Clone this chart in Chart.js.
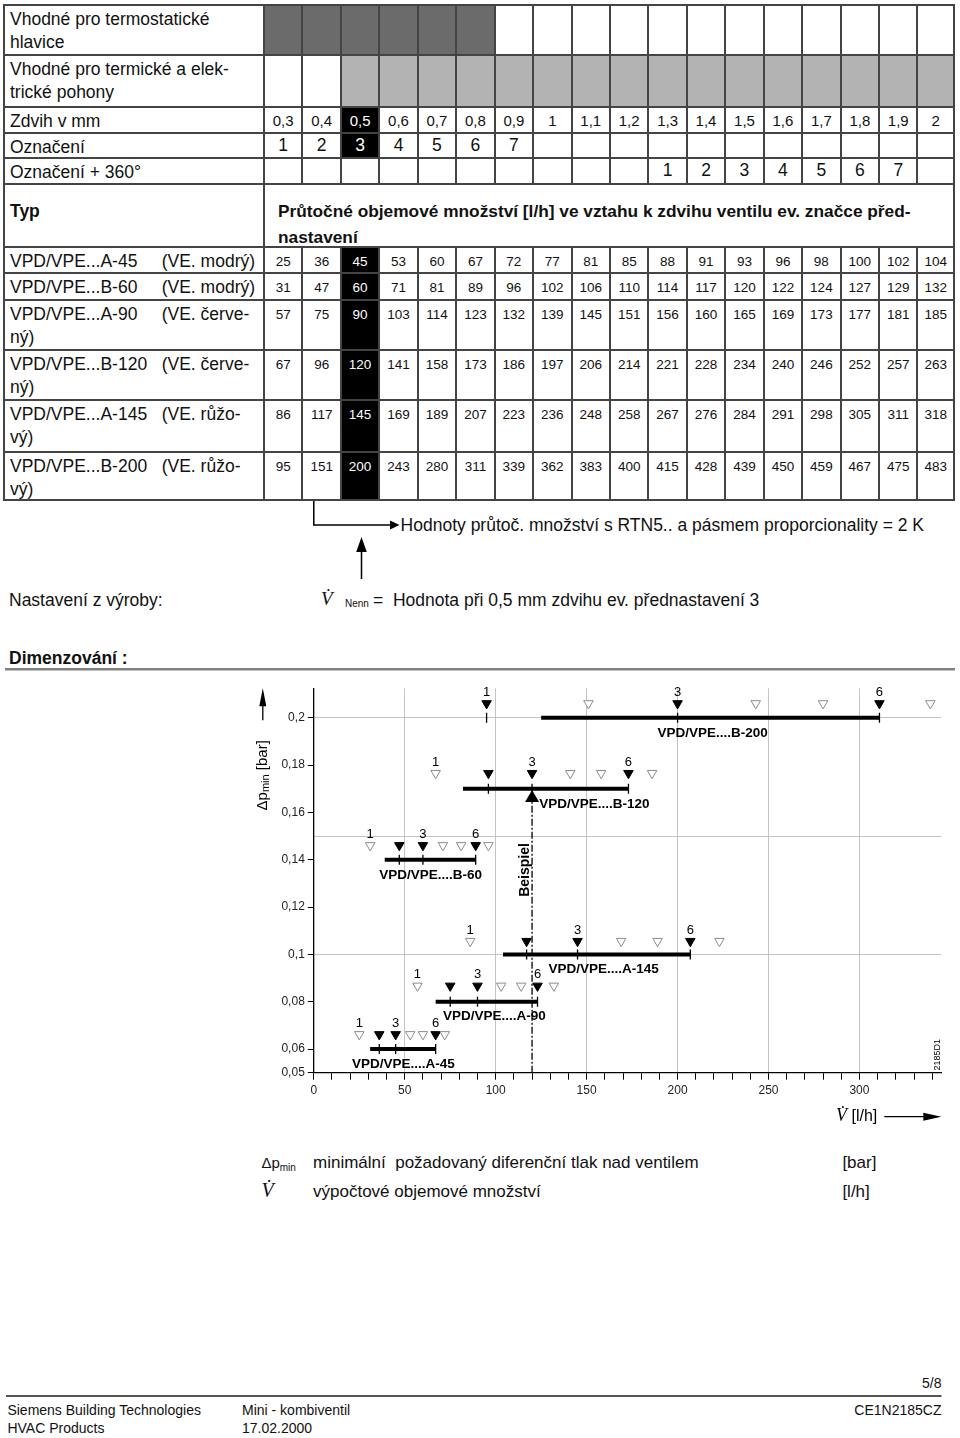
<!DOCTYPE html>
<html lang="cs">
<head>
<meta charset="utf-8">
<title>Mini - kombiventil</title>
<script src="https://cdn.jsdelivr.net/npm/chart.js@4.4.0/dist/chart.umd.min.js"></script>
<style>
  body { margin:0; background:#fff; }
  #page { position:relative; width:960px; height:1438px; overflow:hidden;
          font-family:"Liberation Sans", Arial, Helvetica, sans-serif; color:#111; }
  .c { position:absolute; box-sizing:border-box; border-left:2px solid #444; border-top:2px solid #444;
       white-space:nowrap; overflow:visible; }
  .lab { font-size:17.5px; line-height:23px; padding:2px 0 0 5px; }
  .typ { font-weight:bold; padding-top:13px; line-height:26px; }
  .flowhead { font-weight:bold; font-size:17.3px; line-height:26px; padding:13px 0 0 13px; }
  .num15 { font-size:15px; line-height:23px; padding-top:1px; text-align:center; }
  .num17 { font-size:17.5px; line-height:23px; text-align:center; }
  .val { font-size:13.5px; line-height:23px; padding-top:2px; text-align:center; }
  .dark { background:#6b6b6b; }
  .light { background:#b3b3b3; }
  .blk { background:#000; color:#fff; }
  .nm { display:inline-block; box-sizing:border-box; min-width:151.7px; padding-right:7px; }
  .t { position:absolute; white-space:nowrap; line-height:20px; }
  .vdot { font-family:"Liberation Serif", "Times New Roman", serif; font-style:italic; }
</style>
</head>
<body>
<div id="page">
  <div id="tbl"></div>

  <svg width="960" height="1438" style="position:absolute;left:0;top:0">
    <path d="M313.8 501 V525 H392" stroke="#000" stroke-width="1.5" fill="none"/>
    <path d="M390 520.5 L399.5 525 L390 529.5 Z" fill="#000"/>
    <line x1="361.5" y1="579" x2="361.5" y2="548" stroke="#000" stroke-width="1.5"/>
    <path d="M356.2 552 L361.5 537 L366.8 552 Z" fill="#000"/>
    <rect x="5" y="668" width="950" height="2.5" fill="#808080"/>
    <rect x="6" y="1395" width="935.5" height="2" fill="#555"/>
  </svg>

  <div class="t" style="left:400.6px;top:515px;font-size:17.5px">Hodnoty průtoč. množství s RTN5.. a pásmem proporcionality = 2 K</div>

  <div class="t" style="left:9px;top:590px;font-size:17.5px">Nastavení z výroby:</div>
  <div class="t vdot" style="left:321px;top:589px;font-size:19px">V&#775;</div>
  <div class="t" style="left:345px;top:594px;font-size:10px">Nenn</div>
  <div class="t" style="left:373px;top:590px;font-size:17.5px">= &nbsp;Hodnota při 0,5 mm zdvihu ev. přednastavení 3</div>

  <div class="t" style="left:9px;top:648px;font-size:17.5px;font-weight:bold">Dimenzování :</div>

  <canvas id="graf" width="720" height="460" style="position:absolute;left:240px;top:680px"></canvas>

  <div class="t" style="left:261.4px;top:1153px;font-size:15px">&Delta;p<span style="font-size:10px;position:relative;top:3px">min</span></div>
  <div class="t" style="left:313px;top:1153px;font-size:17px">minimální&nbsp; požadovaný diferenční tlak nad ventilem</div>
  <div class="t" style="left:842.4px;top:1153px;font-size:17px">[bar]</div>
  <div class="t vdot" style="left:261.4px;top:1180px;font-size:20px">V&#775;</div>
  <div class="t" style="left:313px;top:1182px;font-size:17px">výpočtové objemové množství</div>
  <div class="t" style="left:842.4px;top:1182px;font-size:17px">[l/h]</div>

  <div class="t" style="right:18.5px;top:1373px;font-size:14px">5/8</div>
  <div class="t" style="left:7.4px;top:1400px;font-size:14px">Siemens Building Technologies</div>
  <div class="t" style="left:7.4px;top:1418px;font-size:14px">HVAC Products</div>
  <div class="t" style="left:242px;top:1400px;font-size:14px">Mini - kombiventil</div>
  <div class="t" style="left:242px;top:1418px;font-size:14px">17.02.2000</div>
  <div class="t" style="right:18.5px;top:1400px;font-size:14px">CE1N2185CZ</div>
</div>

<script>
// --- data z tabulky ---
const strokeMm = ['0,3','0,4','0,5','0,6','0,7','0,8','0,9','1','1,1','1,2','1,3','1,4','1,5','1,6','1,7','1,8','1,9','2']
const marks    = ['1','2','3','4','5','6','7','','','','','','','','','','','']
const marks360 = ['','','','','','','','','','','1','2','3','4','5','6','7','']
const nominalColumn = 2   // 0,5 mm / prednastaveni 3

const typeNames = ['VPD/VPE...A-45','VPD/VPE...B-60','VPD/VPE...A-90','VPD/VPE...B-120','VPD/VPE...A-145','VPD/VPE...B-200']
const typeNotes = [['(VE. modrý)',''],['(VE. modrý)',''],['(VE. červe-','ný)'],['(VE. červe-','ný)'],['(VE. růžo-','vý)'],['(VE. růžo-','vý)']]
const chartNames = ['VPD/VPE....A-45','VPD/VPE....B-60','VPD/VPE....A-90','VPD/VPE....B-120','VPD/VPE....A-145','VPD/VPE....B-200']

const flowA45  = [25,36,45,53,60,67,72,77,81,85,88,91,93,96,98,100,102,104]
const flowB60  = [31,47,60,71,81,89,96,102,106,110,114,117,120,122,124,127,129,132]
const flowA90  = [57,75,90,103,114,123,132,139,145,151,156,160,165,169,173,177,181,185]
const flowB120 = [67,96,120,141,158,173,186,197,206,214,221,228,234,240,246,252,257,263]
const flowA145 = [86,117,145,169,189,207,223,236,248,258,267,276,284,291,298,305,311,318]
const flowB200 = [95,151,200,243,280,311,339,362,383,400,415,428,439,450,459,467,475,483]
const flows = [flowA45, flowB60, flowA90, flowB120, flowA145, flowB200]

// --- data z diagramu ---
const dpLevel     = [0.06, 0.14, 0.08, 0.17, 0.1, 0.2]          // tlusta cara [bar]
const markerLevel = [0.0662, 0.1461, 0.0867, 0.1766, 0.1056, 0.2061]
const rangeStart  = [31, 39, 67, 82, 104, 125]                   // zacatek cary [l/h]
const rangeEndSetting = 6
const filledSettings = [[2,3,6],[2,3,6],[2,3,6],[2,3,6],[2,3,6],[1,3,6]]
const shownSettings = [1,2,3,4,5,6,7]
const numberedSettings = [1,3,6]
const nameAt = [21, 36, 71, 124, 129, 189]
const exampleFlow = 120
const exampleTop = 0.1695
const xTickLabels = [0,50,100,150,200,250,300]
const yTickLabels = [0.05,0.06,0.08,0.1,0.12,0.14,0.16,0.18,0.2]
const yGridLines = [0.1,0.15,0.2]

// SECTION TABULKA
const tbl = document.getElementById('tbl')
const colX = [3, 263]
for (let k = 1; k <= 18; k++) colX.push(263 + k * 38.44)
const rowY = [4, 54, 106, 132, 157, 183, 246, 272, 299, 349, 399, 451, 501]

function cell(c0, c1, r, html, cls) {
  const d = document.createElement('div')
  d.className = 'c ' + (cls || '')
  d.style.left = colX[c0] + 'px'
  d.style.top = rowY[r] + 'px'
  d.style.width = (colX[c1] - colX[c0]) + 'px'
  d.style.height = (rowY[r + 1] - rowY[r]) + 'px'
  if (c1 === colX.length - 1) d.style.borderRight = '2px solid #444'
  if (r === rowY.length - 2) d.style.borderBottom = '2px solid #444'
  d.innerHTML = html
  tbl.appendChild(d)
}

const headLabels = ['Vhodné pro termostatické<br>hlavice', 'Vhodné pro termické a elek-<br>trické pohony',
                    'Zdvih v mm', 'Označení', 'Označení + 360°']
headLabels.forEach((h, r) => cell(0, 1, r, h, 'lab'))
for (let k = 0; k < 18; k++) {
  const c = k + 1
  const hi = k === nominalColumn ? ' blk' : ''
  cell(c, c + 1, 0, '', k < 6 ? 'dark' : '')
  cell(c, c + 1, 1, '', k >= 2 ? 'light' : '')
  cell(c, c + 1, 2, strokeMm[k], 'num15' + hi)
  cell(c, c + 1, 3, marks[k], 'num17' + hi)
  cell(c, c + 1, 4, marks360[k], 'num17')
}
cell(0, 1, 5, 'Typ', 'lab typ')
cell(1, 19, 5, 'Průtočné objemové množství [l/h] ve vztahu k zdvihu ventilu ev. značce před-<br>nastavení', 'flowhead')
flows.forEach((f, i) => {
  const note = typeNotes[i]
  cell(0, 1, 6 + i, '<span class="nm">' + typeNames[i] + '</span>' + note[0] + (note[1] ? '<br>' + note[1] : ''), 'lab')
  f.forEach((v, k) => cell(k + 1, k + 2, 6 + i, String(v), 'val' + (k === nominalColumn ? ' blk' : '')))
})

// SECTION GRAF
const fam = '"Liberation Sans", Arial, sans-serif'
const datasets = []
flows.forEach((f, i) => {
  datasets.push({
    data: [{x: rangeStart[i], y: dpLevel[i]}, {x: f[rangeEndSetting - 1], y: dpLevel[i]}],
    showLine: true, borderColor: '#000', borderWidth: 4, pointRadius: 0, borderCapStyle: 'butt'
  })
})

const tickPts = [], gapPts = [], fullPts = [], emptyPts = []
flows.forEach((f, i) => {
  shownSettings.forEach(s => {
    const v = f[s - 1]
    const filled = filledSettings[i].includes(s)
    if (filled) {
      fullPts.push({x: v, y: markerLevel[i]})
      tickPts.push({x: v, y: dpLevel[i]})
    } else {
      emptyPts.push({x: v, y: markerLevel[i]})
      if (v > rangeStart[i] && v < f[rangeEndSetting - 1]) gapPts.push({x: v, y: dpLevel[i]})
    }
  })
})

datasets.push({ data: gapPts, pointStyle: 'line', rotation: 90, pointRadius: 2.5, borderColor: '#fff', borderWidth: 1.3 })
datasets.push({ data: tickPts, pointStyle: 'line', rotation: 90, pointRadius: 5, borderColor: '#000', borderWidth: 1.3 })
datasets.push({ data: emptyPts, pointStyle: 'triangle', rotation: 180, pointRadius: 5.5,
                backgroundColor: '#fff', borderColor: '#8c8c8c', borderWidth: 1 })
datasets.push({ data: fullPts, pointStyle: 'triangle', rotation: 180, pointRadius: 5.5,
                backgroundColor: '#000', borderColor: '#000', borderWidth: 1 })
datasets.push({ data: [{x: exampleFlow, y: 0.05}, {x: exampleFlow, y: exampleTop}],
                showLine: true, borderColor: '#000', borderWidth: 1.3, borderDash: [7, 2, 2, 2], pointRadius: 0 })

const popisky = {
  id: 'popisky',
  afterDatasetsDraw(chart) {
    const {ctx, chartArea: a, scales: {x, y}} = chart
    ctx.save()
    ctx.fillStyle = '#000'
    ctx.strokeStyle = '#000'
    ctx.textBaseline = 'middle'

    // cisla nastaveni nad trojuhelniky
    ctx.font = '13px ' + fam
    ctx.textAlign = 'center'
    flows.forEach((f, i) => numberedSettings.forEach(s => {
      ctx.fillText(String(s), x.getPixelForValue(f[s - 1]), y.getPixelForValue(markerLevel[i]) - 11)
    }))

    // nazvy typu
    ctx.font = 'bold 13.5px ' + fam
    ctx.textAlign = 'left'
    chartNames.forEach((n, i) => ctx.fillText(n, x.getPixelForValue(nameAt[i]), y.getPixelForValue(dpLevel[i]) + 15))

    // Beispiel
    const ex = x.getPixelForValue(exampleFlow), tip = y.getPixelForValue(exampleTop)
    ctx.beginPath()
    ctx.moveTo(ex, tip); ctx.lineTo(ex - 7, tip + 12); ctx.lineTo(ex + 7, tip + 12)
    ctx.closePath(); ctx.fill()
    ctx.save()
    ctx.translate(ex - 7, tip + 80)
    ctx.rotate(-Math.PI / 2)
    ctx.font = 'bold 14px ' + fam
    ctx.textAlign = 'center'
    ctx.fillText('Beispiel', 0, 0)
    ctx.restore()

    // osa y - popis a sipka
    const yx = a.left - 51
    ctx.lineWidth = 1.3
    ctx.beginPath(); ctx.moveTo(yx, a.top + 32); ctx.lineTo(yx, a.top + 14); ctx.stroke()
    ctx.beginPath(); ctx.moveTo(yx, a.top); ctx.lineTo(yx - 3.5, a.top + 18); ctx.lineTo(yx + 3.5, a.top + 18)
    ctx.closePath(); ctx.fill()
    ctx.save()
    ctx.translate(yx, a.top + 87)
    ctx.rotate(-Math.PI / 2)
    const parts = [['\u0394p', '15px', 0], ['min', '11px', 3], [' [bar]', '15px', 0]]
    let total = 0
    parts.forEach(p => { ctx.font = p[1] + ' ' + fam; total += ctx.measureText(p[0]).width })
    let px = -total / 2
    ctx.textAlign = 'left'
    parts.forEach(p => { ctx.font = p[1] + ' ' + fam; ctx.fillText(p[0], px, p[2]); px += ctx.measureText(p[0]).width })
    ctx.restore()

    // osa x - popis a sipka
    const ty = a.bottom + 44
    ctx.font = '16px ' + fam
    const uW = ctx.measureText(' [l/h]').width
    ctx.textAlign = 'right'
    ctx.fillText(' [l/h]', a.right - 64, ty)
    ctx.font = 'italic 18px "Liberation Serif", "Times New Roman", serif'
    ctx.fillText('V\u0307', a.right - 64 - uW, ty)
    ctx.beginPath(); ctx.moveTo(a.right - 57, ty); ctx.lineTo(a.right - 16, ty); ctx.stroke()
    ctx.beginPath(); ctx.moveTo(a.right, ty); ctx.lineTo(a.right - 18, ty - 4); ctx.lineTo(a.right - 18, ty + 4)
    ctx.closePath(); ctx.fill()

    // cislo obrazku
    ctx.save()
    ctx.translate(a.right - 3.5, a.bottom - 18)
    ctx.rotate(-Math.PI / 2)
    ctx.font = '9px ' + fam
    ctx.textAlign = 'center'
    ctx.fillText('2185D1', 0, 0)
    ctx.restore()

    ctx.restore()
  }
}

const ctxGraf = document.getElementById('graf')
var grafDimenzovani = new Chart(ctxGraf, {
  type: 'scatter',
  data: { datasets: datasets },
  options: {
    responsive: false,
    animation: false,
    devicePixelRatio: 1,
    events: [],
    layout: { padding: { top: 8.3, right: 18.7, left: 0, bottom: 0 } },
    plugins: { legend: { display: false }, tooltip: { enabled: false } },
    scales: {
      x: {
        type: 'linear', min: 0, max: 345,
        afterBuildTicks: s => {
          const t = []
          for (let v = 0; v <= 340; v += 10) t.push({value: v})
          s.ticks = t
        },
        afterFit: s => { s.height = 67.3; s.paddingLeft = 0; s.paddingRight = 0 },
        ticks: {
          autoSkip: false, maxRotation: 0, padding: 4, color: '#222',
          font: { size: 12, family: fam },
          callback: v => xTickLabels.includes(v) ? String(v) : ''
        },
        grid: {
          color: c => (c.tick && c.tick.value > 0 && xTickLabels.includes(c.tick.value)) ? '#c4c4c4' : 'rgba(0,0,0,0)',
          tickColor: '#000', tickLength: 7, lineWidth: 1
        },
        border: { color: '#000', width: 1.3 }
      },
      y: {
        type: 'linear', min: 0.05, max: 0.2125,
        afterBuildTicks: s => {
          s.ticks = yTickLabels.concat(yGridLines.filter(v => !yTickLabels.includes(v)))
            .sort((p, q) => p - q).map(v => ({value: v}))
        },
        afterFit: s => { s.width = 73.8; s.paddingTop = 0; s.paddingBottom = 0 },
        ticks: {
          autoSkip: false, padding: 3, color: '#222',
          font: { size: 12, family: fam },
          callback: v => yTickLabels.includes(v) ? String(v).replace('.', ',') : ''
        },
        grid: {
          color: c => (c.tick && yGridLines.includes(c.tick.value)) ? '#c4c4c4' : 'rgba(0,0,0,0)',
          tickColor: c => (c.tick && yTickLabels.includes(c.tick.value)) ? '#000' : 'rgba(0,0,0,0)',
          tickLength: 6, lineWidth: 1
        },
        border: { color: '#000', width: 1.3 }
      }
    }
  },
  plugins: [popisky]
})
</script>
</body>
</html>
